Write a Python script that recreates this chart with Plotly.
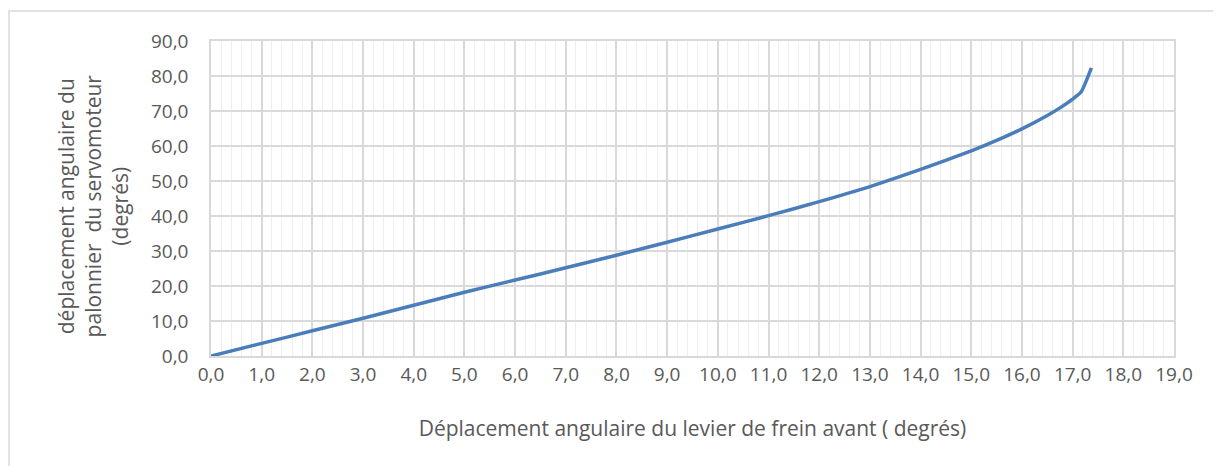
import plotly.graph_objects as go

# valeurs
levier_deg = [0, 1, 2, 3, 4, 5, 6, 7, 8, 9, 10, 11, 12, 13, 14, 15, 15.5,
              16, 16.5, 16.75, 17, 17.17, 17.37]
palonnier_deg = [0, 3.6, 7.2, 10.8, 14.5, 18.2, 21.7, 25.2, 28.8, 32.5, 36.3,
                 40.1, 44.1, 48.4, 53.3, 58.6, 61.6, 64.9, 68.7, 70.9, 73.4,
                 75.5, 82.3]

x_ticks = [i for i in range(0, 20)]
y_ticks = [i * 10 for i in range(0, 10)]

GRID = "#d9d9d9"
TXT = "#595959"
FONT = "Open Sans"


def fmt(v):
    return f"{v:.1f}".replace(".", ",")


fig = go.Figure()

fig.add_trace(go.Scatter(
    x=levier_deg,
    y=palonnier_deg,
    mode="lines",
    line=dict(color="#4a7ebb", width=3.5, shape="spline", smoothing=0.5),
    showlegend=False
))

fig.update_xaxes(
    range=[0, 19],
    tickvals=x_ticks,
    ticktext=[fmt(v) for v in x_ticks],
    showgrid=True,
    gridcolor=GRID,
    gridwidth=1.5,
    minor=dict(dtick=0.2, showgrid=True, gridcolor="#eeeeee", gridwidth=1),
    showline=True,
    linecolor=GRID,
    linewidth=1.5,
    mirror=True,
    zeroline=False,
    ticks="",
    tickfont=dict(family=FONT, size=19, color=TXT),
    title=dict(text="Déplacement angulaire du levier de frein avant ( degrés)",
               font=dict(family=FONT, size=21, color=TXT), standoff=36)
)

fig.update_yaxes(
    range=[0, 90],
    tickvals=y_ticks,
    ticktext=[fmt(v) for v in y_ticks],
    showgrid=True,
    gridcolor=GRID,
    gridwidth=1.5,
    showline=True,
    linecolor=GRID,
    linewidth=1.5,
    mirror=True,
    zeroline=False,
    ticks="",
    ticklabelstandoff=17,
    tickfont=dict(family=FONT, size=19, color=TXT)
)

fig.add_annotation(
    text="déplacement angulaire du<br>palonnier  du servomoteur<br>(degrés)",
    xref="paper", yref="paper",
    x=(93 - 211) / 963, y=0.475,
    xanchor="center", yanchor="middle",
    textangle=-90,
    showarrow=False,
    font=dict(family=FONT, size=21, color=TXT)
)

# cadre du graphique
fig.add_shape(
    type="rect", xref="paper", yref="paper",
    x0=(9 - 211) / 963, x1=1.2,
    y0=-0.5, y1=(356 - 11) / 315,
    line=dict(color=GRID, width=1.5),
    layer="below"
)

# la page ajoute 8 px de marge autour du graphique
fig.update_layout(
    width=1221,
    height=466,
    margin=dict(l=203, r=55, t=33, b=118),
    paper_bgcolor="white",
    plot_bgcolor="white",
    font=dict(family=FONT, color=TXT)
)

fig.write_html("out.html")
